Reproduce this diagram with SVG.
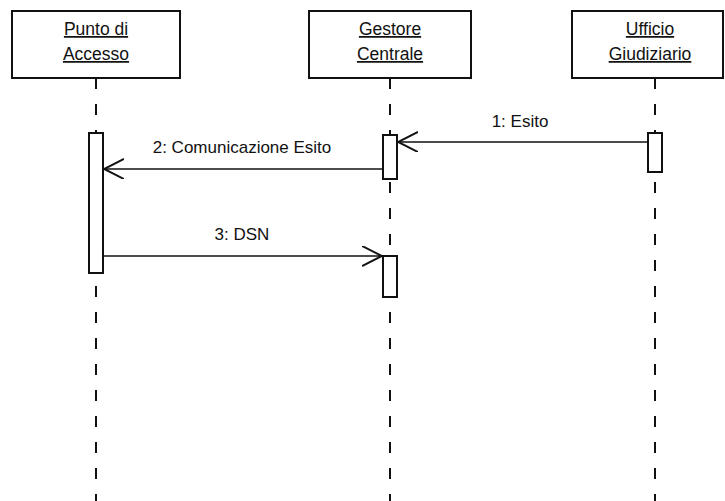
<svg xmlns="http://www.w3.org/2000/svg" width="725" height="501" viewBox="0 0 725 501">
  <style>
    .head { fill: #fff; stroke: #111; stroke-width: 2; }
    .head-label { font-family: "Liberation Sans", Arial, sans-serif; font-size: 17.5px; fill: #111; text-anchor: middle; text-decoration: underline; }
    .life { stroke: #111; stroke-width: 2; stroke-dasharray: 11 15; fill: none; }
    .act { fill: #fff; stroke: #111; stroke-width: 2; }
    .msg { stroke: #111; stroke-width: 1.6; fill: none; }
    .msg-label { font-family: "Liberation Sans", Arial, sans-serif; font-size: 17px; fill: #111; text-anchor: middle; }
  </style>
  <defs>
    <marker id="open-arrow" markerWidth="22" markerHeight="22" refX="20" refY="10" orient="auto" markerUnits="userSpaceOnUse">
      <path d="M0,0 L20,10 L0,20" fill="none" stroke="#111" stroke-width="2"/>
    </marker>
  </defs>
  <rect width="725" height="501" fill="#fff"/>

  <!-- lifelines -->
  <g id="lifelines">
    <line class="life" x1="96" y1="78" x2="96" y2="501"/>
    <line class="life" x1="390" y1="78" x2="390" y2="501"/>
    <line class="life" x1="655" y1="78" x2="655" y2="501"/>
  </g>

  <!-- participants -->
  <g id="punto-di-accesso">
    <rect class="head" x="12" y="11" width="168" height="67"/>
    <text class="head-label" x="96" y="35">Punto di</text>
    <text class="head-label" x="96" y="60">Accesso</text>
    <rect class="act" x="89" y="133" width="14" height="140"/>
  </g>
  <g id="gestore-centrale">
    <rect class="head" x="309" y="11" width="162" height="67"/>
    <text class="head-label" x="390" y="35">Gestore</text>
    <text class="head-label" x="390" y="60">Centrale</text>
    <rect class="act" x="383" y="135" width="14" height="44"/>
    <rect class="act" x="383" y="256" width="14" height="41"/>
  </g>
  <g id="ufficio-giudiziario">
    <rect class="head" x="572" y="11" width="151" height="67"/>
    <text class="head-label" x="650" y="35">Ufficio</text>
    <text class="head-label" x="650" y="60">Giudiziario</text>
    <rect class="act" x="648" y="133" width="14" height="39"/>
  </g>

  <!-- messages -->
  <g id="connectors">
    <line class="msg" x1="648" y1="142" x2="398" y2="142" marker-end="url(#open-arrow)"/>
    <text class="msg-label" x="520" y="127">1: Esito</text>
    <line class="msg" x1="383" y1="169" x2="104" y2="169" marker-end="url(#open-arrow)"/>
    <text class="msg-label" x="242" y="153">2: Comunicazione Esito</text>
    <line class="msg" x1="103" y1="256" x2="382" y2="256" marker-end="url(#open-arrow)"/>
    <text class="msg-label" x="242" y="240">3: DSN</text>
  </g>
</svg>
